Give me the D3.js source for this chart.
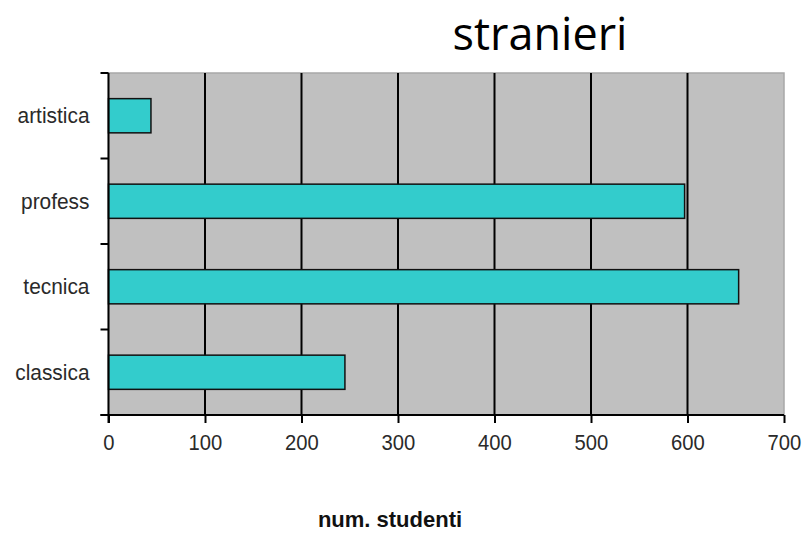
<!DOCTYPE html>
<html>
<head>
<meta charset="utf-8">
<script src="https://cdn.jsdelivr.net/npm/d3@7/dist/d3.min.js"></script>
<style>
  html, body { margin: 0; padding: 0; background: #fff; }
  svg { display: block; }
</style>
</head>
<body>
<svg id="chart" width="804" height="534"></svg>
<script>
const categories = ["artistica", "profess", "tecnica", "classica"];
const values = [44, 597, 653, 245];
const xTicks = [0, 100, 200, 300, 400, 500, 600, 700];
const title = "stranieri";
const xTitle = "num. studenti";

const svg = d3.select("#chart");
const m = { left: 108.5, right: 784, top: 73, bottom: 415 };
const labelFont = "'Liberation Sans', Arial, sans-serif";

const x = d3.scaleLinear().domain([0, 700]).range([m.left, m.right]);
const y = d3.scaleBand().domain(categories).range([m.top, m.bottom])
  .paddingInner(0.6).paddingOuter(0.3);

// plot background
svg.append("rect")
  .attr("x", m.left).attr("y", m.top)
  .attr("width", m.right - m.left).attr("height", m.bottom - m.top)
  .attr("fill", "#c0c0c0")
  .attr("stroke", "#a8a8a8").attr("stroke-width", 1.5);

// gridlines
svg.append("g")
  .selectAll("line")
  .data(xTicks.filter(d => d > 0 && d < 700))
  .join("line")
  .attr("x1", d => x(d)).attr("x2", d => x(d))
  .attr("y1", m.top).attr("y2", m.bottom)
  .attr("stroke", "#000").attr("stroke-width", 2);

// bars
svg.append("g")
  .selectAll("rect")
  .data(categories.map((c, i) => ({ c, v: values[i] })))
  .join("rect")
  .attr("x", x(0))
  .attr("y", d => y(d.c))
  .attr("width", d => x(d.v) - x(0))
  .attr("height", y.bandwidth())
  .attr("fill", "#33cccc")
  .attr("stroke", "#111").attr("stroke-width", 1.5);

// x axis
const xAxis = d3.axisBottom(x).tickValues(xTicks).tickSize(8).tickSizeOuter(0).tickPadding(11);
const gx = svg.append("g").attr("transform", `translate(0,${m.bottom})`).call(xAxis);
gx.select(".domain").attr("stroke", "#000").attr("stroke-width", 2)
  .attr("d", `M${m.left - 8},0H${m.right}`);
gx.selectAll(".tick line").attr("stroke", "#000").attr("stroke-width", 2);
gx.selectAll(".tick text")
  .attr("font-family", labelFont)
  .attr("font-size", 22).attr("fill", "#2a2a2a")
  .attr("transform", "scale(0.92,1)");

// y axis: ticks at category boundaries, labels at centers
const boundaries = [m.top];
categories.forEach(c => boundaries.push(y(c) + y.bandwidth() / 2 + y.step() / 2));
svg.append("line")
  .attr("x1", m.left).attr("x2", m.left)
  .attr("y1", m.top).attr("y2", m.bottom + 8)
  .attr("stroke", "#000").attr("stroke-width", 2);
svg.append("g").selectAll("line").data(boundaries).join("line")
  .attr("x1", m.left - 8).attr("x2", m.left)
  .attr("y1", d => d).attr("y2", d => d)
  .attr("stroke", "#000").attr("stroke-width", 2);
svg.append("g").selectAll("text").data(categories).join("text")
  .attr("transform", d => `translate(${m.left - 19},${y(d) + y.bandwidth() / 2 + 7.5}) scale(0.95,1)`)
  .attr("text-anchor", "end")
  .attr("font-family", labelFont)
  .attr("font-size", 22).attr("fill", "#2a2a2a")
  .text(d => d);

// title
svg.append("text")
  .attr("x", 540).attr("y", 50)
  .attr("text-anchor", "middle")
  .attr("font-family", "'Open Sans', 'Noto Sans', sans-serif")
  .attr("font-size", 45).attr("fill", "#000")
  .text(title);

// x title
svg.append("text")
  .attr("x", 390).attr("y", 527)
  .attr("text-anchor", "middle")
  .attr("font-family", labelFont)
  .attr("font-weight", "bold")
  .attr("font-size", 22).attr("fill", "#111")
  .text(xTitle);
</script>
</body>
</html>
